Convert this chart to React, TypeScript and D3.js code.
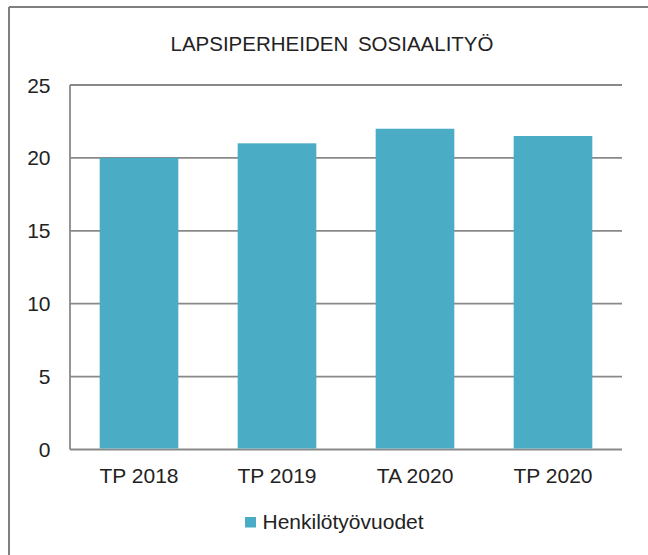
import React from "react";
import * as d3 from "d3";

const title = "LAPSIPERHEIDEN SOSIAALITYÖ";
const categories = ["TP 2018", "TP 2019", "TA 2020", "TP 2020"];
const values = [20, 21, 22, 21.5];
const yTicks = [0, 5, 10, 15, 20, 25];
const seriesName = "Henkilötyövuodet";

const W = 648;
const H = 555;
const plot = { left: 70, right: 622, top: 85, bottom: 449.5 };
const barColor = "#4BACC6";
const gridColor = "#898989";
const font = "'Liberation Sans', Arial, sans-serif";

export default function App() {
  const x = d3
    .scaleBand<string>()
    .domain(categories)
    .range([plot.left, plot.right])
    .paddingInner(0.43)
    .paddingOuter(0.215);
  const y = d3.scaleLinear().domain([0, 25]).range([plot.bottom, plot.top]);

  return (
    <svg
      width={W}
      height={H}
      style={{ position: "absolute", left: 0, top: 0, background: "#fff" }}
    >
      <rect x={0} y={0} width={W} height={H} fill="#fff" />
      {/* border */}
      <line x1={9} y1={7} x2={W} y2={7} stroke="#7f7f7f" strokeWidth={2} />
      <line x1={9} y1={7} x2={9} y2={H} stroke="#7f7f7f" strokeWidth={2} />

      <text
        x={332}
        y={50.5}
        textAnchor="middle"
        fontFamily={font}
        fontSize={20.5}
        wordSpacing={4}
        fill="#222"
      >
        {title}
      </text>

      {yTicks.map((t) => (
        <g key={t}>
          <line
            x1={plot.left}
            x2={plot.right}
            y1={y(t)}
            y2={y(t)}
            stroke={gridColor}
            strokeWidth={1.8}
          />
          <text
            x={50.5}
            y={y(t) + 7.5}
            textAnchor="end"
            fontFamily={font}
            fontSize={21}
            fill="#222"
          >
            {t}
          </text>
        </g>
      ))}
      <line
        x1={plot.left}
        x2={plot.left}
        y1={plot.top}
        y2={plot.bottom}
        stroke={gridColor}
        strokeWidth={1.8}
      />

      {categories.map((c, i) => (
        <rect
          key={c}
          x={x(c)!}
          y={y(values[i])}
          width={x.bandwidth()}
          height={y(0) - y(values[i]) - 1}
          fill={barColor}
        />
      ))}

      {categories.map((c) => (
        <text
          key={c}
          x={x(c)! + x.bandwidth() / 2}
          y={482.5}
          textAnchor="middle"
          fontFamily={font}
          fontSize={21}
          fill="#222"
        >
          {c}
        </text>
      ))}

      <rect x={245} y={517} width={11} height={10.5} fill={barColor} />
      <text x={262.5} y={529} fontFamily={font} fontSize={21} fill="#222">
        {seriesName}
      </text>
    </svg>
  );
}
